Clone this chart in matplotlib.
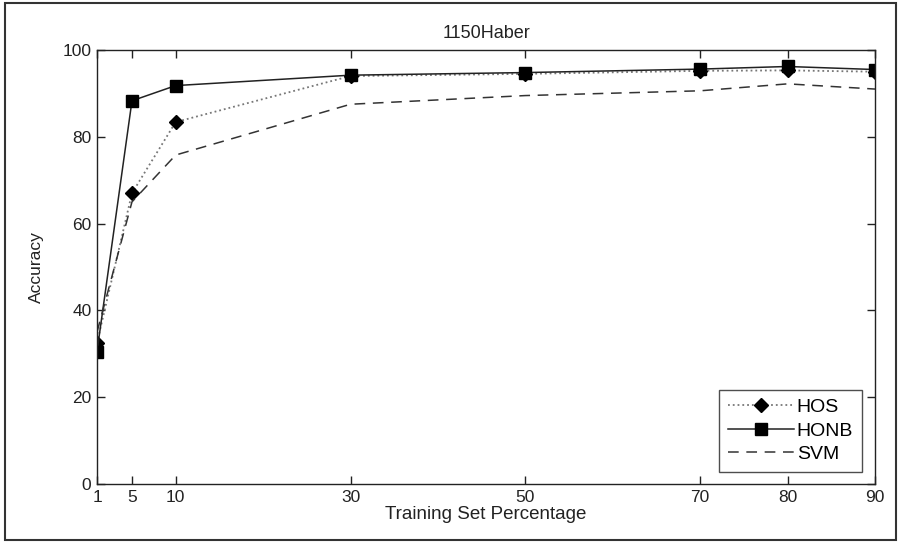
import matplotlib
matplotlib.use("Agg")
import matplotlib.pyplot as plt
from matplotlib.patches import Rectangle

plt.rcParams['font.family'] = ['Liberation Sans', 'DejaVu Sans']

x_vals = [1, 5, 10, 30, 50, 70, 80, 90]
hos = [32.5, 67, 83.4, 94, 94.5, 95.2, 95.3, 95.0]
honb = [30.5, 88.3, 91.8, 94.2, 94.8, 95.6, 96.2, 95.5]
svm = [35, 65, 75.8, 87.5, 89.5, 90.6, 92.2, 91.0]
xticks = [1, 5, 10, 30, 50, 70, 80, 90]
yticks = [0, 20, 40, 60, 80, 100]

fig = plt.figure(figsize=(9.01, 5.42), dpi=100)
ax = fig.add_axes([97/901, 1 - 484/542, (875-97)/901, (484-50)/542])

ax.plot(x_vals, hos, linestyle=':', color='#777777', linewidth=1.3,
        marker='D', markersize=7, markerfacecolor='black', markeredgecolor='black', label='HOS')
ax.plot(x_vals, honb, linestyle='-', color='#222222', linewidth=1.1,
        marker='s', markersize=9, markerfacecolor='black', markeredgecolor='black', label='HONB')
ax.plot(x_vals, svm, linestyle=(0, (7, 5)), color='#333333', linewidth=1.1, label='SVM')

ax.set_xlim(1, 90)
ax.set_ylim(0, 100)
ax.set_xticks(xticks)
ax.set_yticks(yticks)
ax.tick_params(direction='in', length=6, width=1, top=True, right=True,
               labelsize=12.5, colors='#222222', pad=4)
for s in ax.spines.values():
    s.set_linewidth(1.0)
    s.set_color('#222222')

ax.set_title('1150Haber', fontsize=13, color='#222222', pad=9)
ax.set_xlabel('Training Set Percentage', fontsize=13.5, color='#222222', labelpad=1)
ax.set_ylabel('Accuracy', fontsize=12.5, color='#222222', labelpad=13)

leg = ax.legend(loc='lower right', bbox_to_anchor=(0.983, 0.028), borderaxespad=0,
                fontsize=14, frameon=True, fancybox=False, edgecolor='#222222',
                handlelength=3.4, borderpad=0.45, labelspacing=0.3, handletextpad=0.15)
leg.get_frame().set_linewidth(1.0)

fig.patches.append(Rectangle((5/901, 2/542), 891/901, 537/542, transform=fig.transFigure,
                             fill=False, edgecolor='#333333', linewidth=1.5))

fig.savefig('out.png', dpi=100)
